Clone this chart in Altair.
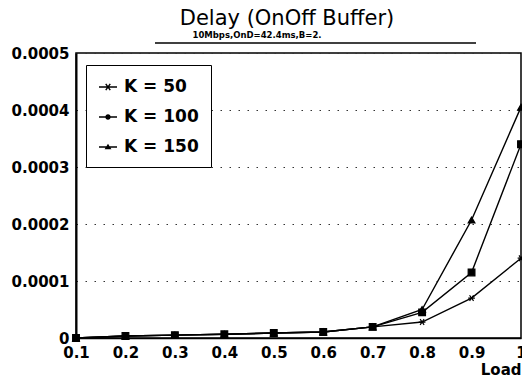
import altair as alt
import pandas as pd

# ---- data ----
load = [0.1, 0.2, 0.3, 0.4, 0.5, 0.6, 0.7, 0.8, 0.9, 1.0]
k50 = [0.0, 0.0000035, 0.000005, 0.0000065, 0.0000088, 0.0000106, 0.0000195, 0.000028, 0.00007, 0.00014]
k100 = [0.0, 0.0000035, 0.000005, 0.0000065, 0.0000088, 0.0000106, 0.0000195, 0.000045, 0.000115, 0.00034]
k150 = [0.0, 0.0000035, 0.000005, 0.0000065, 0.0000088, 0.0000106, 0.0000195, 0.00005, 0.000207, 0.000405]
series_names = ["K = 50", "K = 100", "K = 150"]
y_ticks = [0, 0.0001, 0.0002, 0.0003, 0.0004, 0.0005]
x_ticks = load
title_text = "Delay (OnOff Buffer)"
subtitle_text = "10Mbps,OnD=42.4ms,B=2."
x_title = "Load"

rows = []
for name, vals in zip(series_names, [k50, k100, k150]):
    for x, y in zip(load, vals):
        rows.append({"Load": x, "Delay": y, "K": name})
df = pd.DataFrame(rows)

# marker shapes
asterisk = "M-1,0L1,0M-0.6,-0.85L0.6,0.85M-0.6,0.85L0.6,-0.85"
marker_range = [asterisk, "square", "triangle-up"]
# legend glyphs: line segment (thin filled bar) with a filled marker
bar = "M-1,-0.07L1,-0.07L1,0.07L-1,0.07Z"
star = ("M-0.1855,-0.387L0.3145,0.293L0.1855,0.387L-0.3145,-0.293Z"
        "M-0.3145,0.293L0.1855,-0.387L0.3145,-0.293L-0.1855,0.387Z"
        "M-0.36,-0.08L0.36,-0.08L0.36,0.08L-0.36,0.08Z")
leg_ast = bar + star
leg_dot = bar + "M-0.3,0A0.3,0.3,0,1,1,0.3,0A0.3,0.3,0,1,1,-0.3,0Z"
leg_tri = bar + "M-0.38,0.26L0,-0.36L0.38,0.26Z"
legend_range = [leg_ast, leg_dot, leg_tri]

FONT = "DejaVu Sans"
W, H = 445, 285

x_enc = alt.X(
    "Load:Q",
    scale=alt.Scale(domain=[0.1, 1.0], nice=False, zero=False),
    axis=alt.Axis(
        values=x_ticks,
        labelExpr="datum.value == 1 ? '1' : format(datum.value, '.1f')",
        grid=False, ticks=False, domain=True, domainColor="black", domainWidth=1.5,
        labelFont=FONT, labelFontWeight="bold", labelFontSize=15, labelColor="black",
        labelPadding=7, labelFlush=False, labelOverlap=False,
        title=x_title, titleFont=FONT, titleFontWeight="bold", titleFontSize=15,
        titleColor="black", titleX=W, titleY=36, titleAlign="right",
        titleBaseline="alphabetic",
    ),
)
y_enc = alt.Y(
    "Delay:Q",
    scale=alt.Scale(domain=[0, 0.0005], nice=False),
    axis=alt.Axis(
        values=y_ticks,
        labelExpr="datum.value == 0 ? '0' : format(datum.value, '.4f')",
        grid=True, gridColor="#333", gridDash=[1.5, 7.5], gridWidth=1,
        ticks=False, domain=True, domainColor="black", domainWidth=2,
        labelFont=FONT, labelFontWeight="bold", labelFontSize=15, labelColor="black",
        labelPadding=7, labelOverlap=False, title=None,
    ),
)

base = alt.Chart(df)
lines = base.mark_line(color="black", strokeWidth=1.4).encode(
    x=x_enc, y=y_enc, detail="K:N"
)
points = base.mark_point(
    filled=True, fill="black", stroke="black", strokeWidth=1.2, opacity=1
).encode(
    x="Load:Q", y="Delay:Q",
    shape=alt.Shape("K:N", scale=alt.Scale(domain=series_names, range=marker_range), legend=None),
    size=alt.value(45),
)

legend_layer = base.transform_filter("false").mark_point(
    filled=True, opacity=1, size=324
).encode(
    x="Load:Q", y="Delay:Q",
    fill=alt.value("black"),
    shape=alt.Shape(
        "K:N",
        scale=alt.Scale(domain=series_names, range=legend_range),
        legend=alt.Legend(
            title=None, orient="none", legendX=10, legendY=12,
            symbolSize=324, symbolFillColor="black", symbolOpacity=1,
            labelExpr="datum.label + '    '",
            labelFont=FONT, labelFontWeight="bold", labelFontSize=17, labelColor="black",
            labelOffset=6, rowPadding=12, padding=12,
            strokeColor="black", fillColor="white",
        ),
    ),
)

title_df = pd.DataFrame({"t": [title_text]})
sub_df = pd.DataFrame({"t": [subtitle_text]})
title_mark = alt.Chart(title_df).mark_text(
    font=FONT, fontSize=21, color="black", align="center", baseline="alphabetic"
).encode(text="t:N", x=alt.value(211), y=alt.value(-28))
sub_mark = alt.Chart(sub_df).mark_text(
    font=FONT, fontSize=8.5, fontWeight="bold", color="black", align="center", baseline="alphabetic"
).encode(text="t:N", x=alt.value(181), y=alt.value(-15))
underline = alt.Chart(title_df).mark_rule(color="black", strokeWidth=1.5).encode(
    x=alt.value(79), x2=alt.value(400), y=alt.value(-10)
)

chart = alt.layer(
    lines, points, legend_layer, title_mark, sub_mark, underline
).resolve_scale(shape="independent").properties(
    width=W, height=H,
    padding={"left": 68, "top": 45, "right": 1, "bottom": 44},
    autosize=alt.AutoSizeParams(type="none"),
    background="white",
).configure_view(stroke="black", strokeWidth=1.5)

chart.save("out.html", embed_options={"renderer": "svg", "actions": False})
